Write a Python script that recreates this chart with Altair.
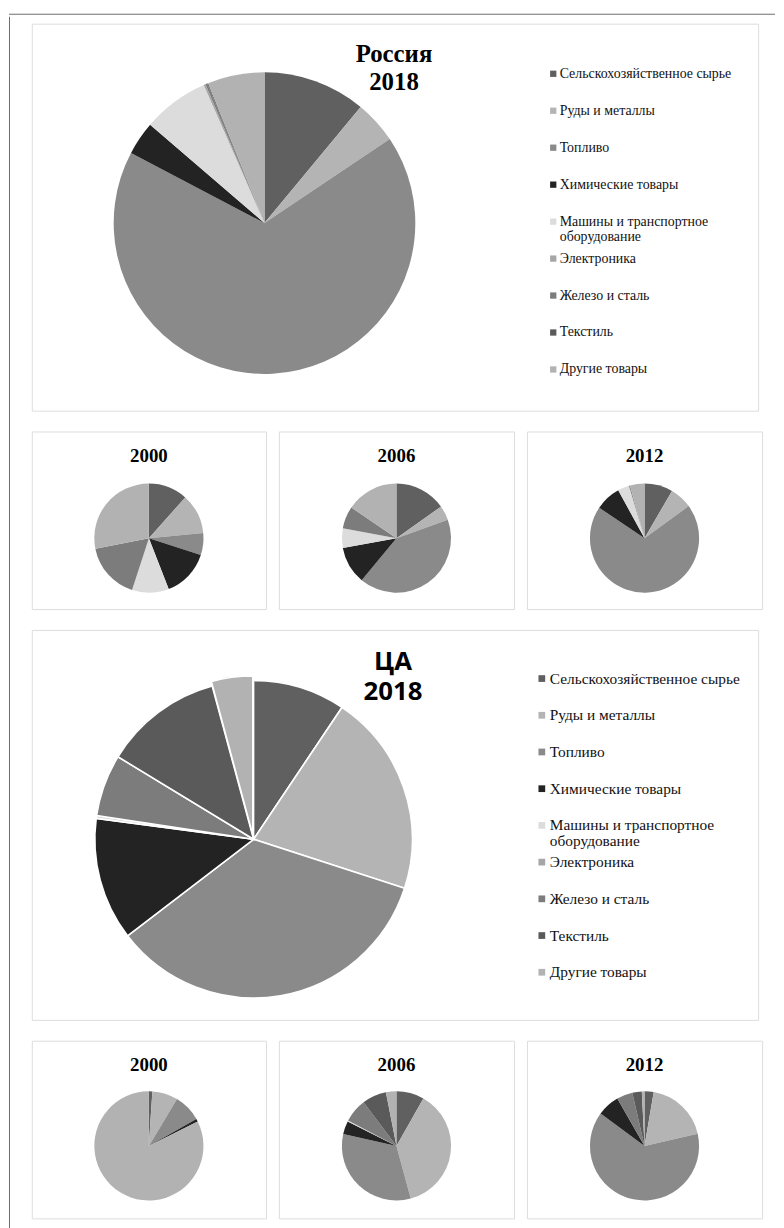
import math
import altair as alt
import pandas as pd

# ---------------- data ----------------
CATEGORIES = [
    "Сельскохозяйственное сырье",
    "Руды и металлы",
    "Топливо",
    "Химические товары",
    "Машины и транспортное оборудование",
    "Электроника",
    "Железо и сталь",
    "Текстиль",
    "Другие товары",
]
LEGEND_LABELS = [
    "Сельскохозяйственное сырье",
    "Руды и металлы",
    "Топливо",
    "Химические товары",
    "Машины и транспортное\nоборудование",
    "Электроника",
    "Железо и сталь",
    "Текстиль",
    "Другие товары",
]
GRAYS = ["#606060", "#b4b4b4", "#8a8a8a", "#232323", "#dcdcdc",
         "#a6a6a6", "#7c7c7c", "#5a5a5a", "#b2b2b2"]

SMALL_YEARS = ["2000", "2006", "2012"]

RU_2018 = [11.0, 4.6, 67.1, 3.6, 7.1, 0.2, 0.2, 0.1, 6.1]
RU_2000 = [11.6, 11.9, 6.5, 14.1, 10.9, 0.0, 16.9, 0.0, 28.1]
RU_2006 = [15.2, 4.3, 41.5, 11.1, 5.8, 0.0, 6.6, 0.0, 15.5]
RU_2012 = [8.4, 6.6, 69.4, 7.6, 3.4, 0.0, 0.3, 0.0, 4.3]

CA_2018 = [9.4, 20.6, 34.6, 12.5, 0.3, 0.0, 6.3, 12.1, 4.2]
CA_2000 = [1.0, 7.6, 8.2, 0.8, 0.0, 0.0, 0.0, 0.0, 82.4]
CA_2006 = [8.2, 37.6, 32.7, 3.9, 0.3, 0.0, 7.0, 7.2, 3.1]
CA_2012 = [2.7, 18.7, 63.7, 6.6, 0.0, 0.0, 4.7, 2.8, 0.8]

RU_TITLE = "Россия\n2018"
CA_TITLE = "ЦА\n2018"

# ---------------- styles ----------------
SERIF = "Liberation Serif"
SANS = "Open Sans"
PANEL_STROKE = "#c2c2c2"
FRAME_COLOR = "#6e6e6e"
GAP = 19

color_scale = alt.Scale(domain=CATEGORIES, range=GRAYS)
frame_df = pd.DataFrame({"k": [0]})
no_border = alt.ViewBackground(stroke="transparent")


def pie_frame(values):
    return pd.DataFrame({"cat": CATEGORIES, "value": values,
                         "idx": list(range(len(CATEGORIES)))})


def pie(values, cx, cy, r):
    return (
        alt.Chart(pie_frame(values))
        .transform_filter("datum.value > 0")
        .mark_arc(radius=r, strokeWidth=0)
        .encode(
            theta=alt.Theta("value:Q", stack=True),
            color=alt.Color("cat:N", scale=color_scale, legend=None),
            order=alt.Order("idx:Q", sort="ascending"),
            x=alt.value(cx),
            y=alt.value(cy),
        )
    )


def pie_exploded(values, cx, cy, r, explode_cat, dx, dy, sw):
    base = (
        alt.Chart(pie_frame(values))
        .transform_joinaggregate(total="sum(value)")
        .transform_window(cum="sum(value)", sort=[alt.SortField("idx")], frame=[None, 0])
        .transform_calculate(end="datum.cum / datum.total",
                             start="(datum.cum - datum.value) / datum.total")
        .transform_filter("datum.value > 0")
    )
    enc = dict(
        theta=alt.Theta("start:Q", scale=alt.Scale(domain=[0, 1], range=[0, 2 * math.pi])),
        theta2=alt.Theta2("end:Q"),
        color=alt.Color("cat:N", scale=color_scale, legend=None),
    )
    main = (base.transform_filter(alt.datum.cat != explode_cat)
            .mark_arc(radius=r, stroke="white", strokeWidth=sw)
            .encode(x=alt.value(cx), y=alt.value(cy), **enc))
    exp = (base.transform_filter(alt.datum.cat == explode_cat)
           .mark_arc(radius=r, stroke="white", strokeWidth=sw)
           .encode(x=alt.value(cx + dx), y=alt.value(cy + dy), **enc))
    return main + exp


def title_text(text, x, y, font, size, line_h):
    return (
        alt.Chart(pd.DataFrame({"t": [text]}))
        .mark_text(font=font, fontSize=size, fontWeight="bold", align="center",
                   baseline="alphabetic", lineBreak="\n", lineHeight=line_h, color="black")
        .encode(text="t:N", x=alt.value(x), y=alt.value(y))
    )


def legend(sq_x, txt_x, y0, y1, size, sq):
    df = pd.DataFrame({"cat": CATEGORIES, "label": LEGEND_LABELS})
    yenc = alt.Y("cat:N", sort=CATEGORIES, axis=None,
                 scale=alt.Scale(type="point", range=[y0, y1], padding=0))
    squares = alt.Chart(df).mark_square(size=sq, opacity=1).encode(
        y=yenc, x=alt.value(sq_x),
        color=alt.Color("cat:N", scale=color_scale, legend=None))
    labels = alt.Chart(df).mark_text(
        align="left", baseline="middle", lineBreak="\n", font=SERIF,
        fontSize=size, lineHeight=16, color="#111111").encode(
        y=yenc, x=alt.value(txt_x), text="label:N")
    return squares + labels


# ---------------- panels ----------------
TOP_H = 390
CA_H = 393
SMALL_H = 179

top_panel = alt.layer(
    pie(RU_2018, 234.5, 201, 152),
    title_text(RU_TITLE, 365, 38.5, SERIF, 25, 28),
    legend(525.5, 532, 50.5, 348.5, 14, 40),
).properties(width=732, height=TOP_H)

ca_panel = alt.layer(
    pie_exploded(CA_2018, 223.5, 211, 160, "Другие товары", -0.8, -4.5, 1.6),
    title_text(CA_TITLE, 364, 40, SANS, 26, 31),
    legend(514, 522, 49, 345, 15.5, 46),
).properties(width=732, height=CA_H)


def small_row(series, cy, title_y):
    widths = [236, 237, 237]
    panels = []
    for vals, yr, w in zip(series, SMALL_YEARS, widths):
        panels.append(
            alt.layer(
                pie(vals, w / 2, cy, 55),
                title_text(yr, w / 2, title_y, SERIF, 19, 20),
            ).properties(width=w, height=SMALL_H)
        )
    return alt.hconcat(*panels, spacing=11).resolve_scale(theta="independent")


ru_row = small_row([RU_2000, RU_2006, RU_2012], 107.5, 30.5)
ca_row = small_row([CA_2000, CA_2006, CA_2012], 106, 30.5)

content = alt.vconcat(top_panel, ru_row, ca_panel, ca_row, spacing=GAP).resolve_scale(
    theta="independent", y="independent")

# outer frame of the figure (top and left edges)
frame_top = alt.Chart(frame_df).mark_rule(color=FRAME_COLOR, strokeWidth=1).encode(
    x=alt.value(0), x2=alt.value(772), y=alt.value(0.5)
).properties(width=772, height=1, view=no_border)

frame_left = alt.Chart(frame_df).mark_rule(color=FRAME_COLOR, strokeWidth=1).encode(
    x=alt.value(0.5), y=alt.value(-7), y2=alt.value(1215)
).properties(width=1, height=1198, view=no_border)

chart = (
    alt.vconcat(
        frame_top,
        alt.hconcat(frame_left, content, spacing=20),
        spacing=0,
    )
    .resolve_scale(theta="independent", y="independent")
    .properties(padding={"left": 0, "top": 0, "right": 0, "bottom": 0})
    .configure_view(stroke=PANEL_STROKE, strokeWidth=1)
    .configure(background="white")
)

chart.save("out.html", embed_options={"renderer": "svg", "actions": False})
